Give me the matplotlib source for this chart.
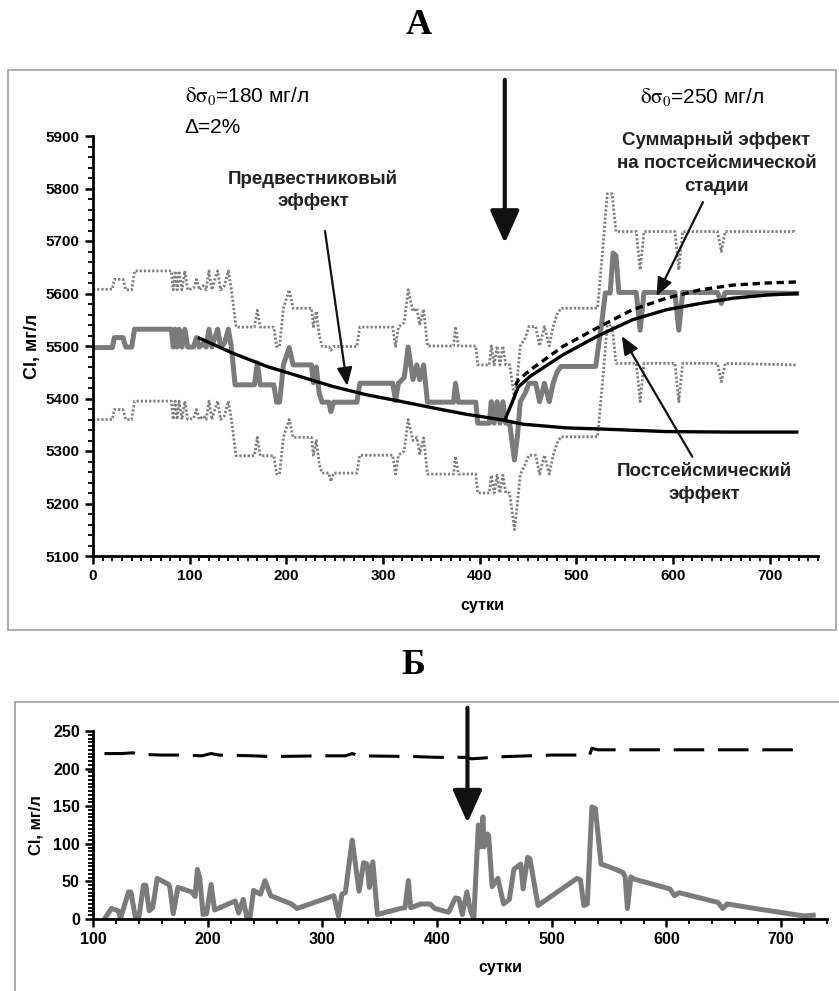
import numpy as np
import matplotlib
matplotlib.use("Agg")
import matplotlib.pyplot as plt
from matplotlib.patches import Rectangle
from matplotlib.lines import Line2D
from matplotlib.ticker import MultipleLocator

plt.rcParams['font.family'] = ['Liberation Sans', 'DejaVu Sans']
plt.rcParams['mathtext.fontset'] = 'stix'

# ---- panel A: measured Cl (thick gray) ----
mid = [(0, 5497), (20, 5497), (22, 5516), (31, 5516), (34, 5498), (40, 5498), (43, 5532), (81, 5532),
       (83, 5498), (85, 5532), (87, 5498), (89, 5532), (92, 5498), (95, 5532), (98, 5498), (104, 5498),
       (107, 5516), (110, 5498), (114, 5505), (117, 5498), (120, 5532), (123, 5498), (126, 5516),
       (129, 5532), (132, 5498), (136, 5505), (140, 5532), (143, 5500), (147, 5426), (167, 5426),
       (170, 5468), (173, 5426), (187, 5426), (190, 5393), (193, 5393), (197, 5464), (203, 5497),
       (207, 5464), (226, 5464), (228, 5430), (231, 5460), (234, 5410), (237, 5393), (244, 5393),
       (246, 5375), (249, 5393), (273, 5393), (276, 5429), (310, 5429), (313, 5396), (316, 5429),
       (322, 5440), (326, 5498), (331, 5436), (335, 5464), (338, 5436), (342, 5464), (346, 5393),
       (373, 5393), (375, 5429), (378, 5393), (396, 5393), (398, 5353), (410, 5353), (412, 5394),
       (415, 5353), (418, 5394), (421, 5353), (424, 5394), (427, 5353), (431, 5353), (436, 5283),
       (439, 5327), (442, 5394), (447, 5410), (451, 5429), (458, 5429), (462, 5394), (467, 5429),
       (472, 5394), (476, 5429), (480, 5450), (484, 5461), (520, 5461), (526, 5540), (530, 5601),
       (535, 5601), (538, 5677), (541, 5672), (544, 5602), (562, 5602), (566, 5530), (570, 5602),
       (602, 5602), (606, 5530), (610, 5602), (646, 5602), (650, 5581), (654, 5602), (728, 5600)]

upper = [(0, 5608), (20, 5608), (22, 5627), (31, 5627), (34, 5607), (40, 5607), (43, 5643), (81, 5643),
         (83, 5607), (85, 5643), (87, 5607), (89, 5643), (92, 5607), (95, 5643), (98, 5607), (104, 5610),
         (107, 5627), (110, 5607), (114, 5615), (117, 5607), (120, 5643), (123, 5607), (126, 5627),
         (129, 5643), (132, 5607), (136, 5615), (140, 5643), (143, 5610), (148, 5536), (167, 5536),
         (170, 5568), (173, 5536), (187, 5536), (190, 5499), (193, 5499), (197, 5572), (203, 5607),
         (207, 5572), (226, 5572), (228, 5537), (231, 5566), (234, 5520), (237, 5499), (244, 5499),
         (246, 5492), (249, 5499), (273, 5499), (276, 5536), (310, 5536), (313, 5499), (316, 5536),
         (322, 5545), (326, 5607), (331, 5566), (335, 5572), (338, 5540), (342, 5570), (346, 5500),
         (373, 5500), (375, 5537), (378, 5500), (396, 5500), (398, 5464), (410, 5464), (412, 5500),
         (415, 5464), (418, 5500), (421, 5464), (424, 5500), (427, 5464), (431, 5464), (436, 5400),
         (439, 5440), (442, 5500), (447, 5515), (451, 5537), (458, 5537), (462, 5500), (467, 5537),
         (472, 5500), (476, 5537), (480, 5560), (484, 5572), (522, 5572), (528, 5700), (532, 5790),
         (537, 5790), (541, 5718), (562, 5718), (566, 5645), (570, 5718), (602, 5718), (606, 5645),
         (610, 5718), (646, 5718), (650, 5680), (654, 5718), (725, 5718), (727, 5714)]

lower = [(0, 5360), (20, 5360), (22, 5379), (31, 5379), (34, 5360), (40, 5360), (43, 5395), (81, 5395),
         (83, 5360), (85, 5395), (87, 5360), (89, 5395), (92, 5360), (95, 5395), (98, 5360), (104, 5362),
         (107, 5379), (110, 5360), (114, 5367), (117, 5360), (120, 5395), (123, 5360), (126, 5379),
         (129, 5395), (132, 5360), (136, 5367), (140, 5395), (143, 5362), (148, 5291), (167, 5291),
         (170, 5326), (173, 5291), (187, 5291), (190, 5256), (193, 5256), (197, 5327), (203, 5360),
         (207, 5326), (226, 5326), (228, 5292), (231, 5320), (234, 5275), (237, 5258), (244, 5258),
         (246, 5242), (249, 5258), (273, 5258), (276, 5292), (310, 5292), (313, 5256), (316, 5292),
         (322, 5300), (326, 5360), (331, 5320), (335, 5326), (338, 5295), (342, 5325), (346, 5256),
         (373, 5256), (375, 5290), (378, 5256), (396, 5256), (398, 5220), (410, 5220), (412, 5254),
         (415, 5220), (418, 5254), (421, 5220), (424, 5254), (427, 5220), (431, 5220), (436, 5150),
         (439, 5200), (442, 5255), (447, 5275), (451, 5292), (458, 5292), (462, 5256), (467, 5292),
         (472, 5256), (476, 5292), (480, 5315), (484, 5327), (522, 5327), (528, 5450), (532, 5540),
         (537, 5540), (541, 5467), (562, 5467), (566, 5394), (570, 5467), (602, 5467), (606, 5394),
         (610, 5467), (646, 5467), (650, 5432), (654, 5467), (727, 5464)]

# model curves
pre_d = [110, 145, 180, 214, 248, 283, 317, 352, 386, 421, 445, 490, 524, 593, 662, 728]
pre_v = [5515, 5486, 5461, 5442, 5423, 5407, 5395, 5382, 5370, 5360, 5351, 5344, 5342, 5337, 5336, 5336]
post_d = [426, 433, 440, 452, 486, 521, 558, 593, 628, 662, 697, 728]
post_v = [5359, 5390, 5422, 5442, 5483, 5518, 5550, 5569, 5581, 5591, 5597, 5600]
sum_d = [437, 440, 452, 486, 521, 558, 593, 628, 662, 697, 728]
sum_v = [5425, 5435, 5454, 5499, 5534, 5569, 5591, 5607, 5616, 5620, 5622]

# ---- panel Б ----
dash_d = [110, 125, 135, 140, 160, 180, 195, 203, 210, 240, 255, 300, 320, 326, 332, 380, 400,
          425, 430, 440, 460, 480, 500, 533, 535, 540, 720]
dash_v = [220, 220, 221, 219, 218, 218, 217, 220, 218, 217, 216, 217, 217, 220, 217, 216, 215,
          215, 213, 214, 216, 217, 218, 218, 227, 225, 225]
diff = [(110, 0), (116, 14), (122, 11), (124, 1), (131, 36), (133, 36), (137, 2), (140, 2), (144, 45),
        (146, 45), (149, 11), (152, 15), (156, 54), (166, 46), (167, 42), (170, 7), (174, 42), (186, 36),
        (189, 30), (191, 66), (193, 55), (196, 6), (199, 7), (203, 46), (206, 12), (224, 24), (227, 8),
        (231, 26), (234, 3), (237, 3), (240, 38), (246, 33), (250, 51), (255, 31), (273, 20), (278, 14),
        (310, 31), (314, 4), (317, 33), (320, 35), (326, 105), (332, 37), (336, 75), (339, 73), (341, 42),
        (344, 76), (348, 6), (368, 14), (372, 15), (375, 51), (377, 15), (386, 20), (394, 20), (398, 14),
        (410, 9), (416, 28), (419, 27), (422, 6), (426, 36), (429, 12), (432, 0), (436, 125), (438, 96),
        (440, 136), (441, 96), (444, 113), (445, 111), (448, 43), (453, 54), (458, 20), (463, 26),
        (467, 66), (471, 71), (473, 73), (475, 40), (479, 82), (481, 80), (488, 18), (522, 54), (525, 52),
        (528, 18), (531, 20), (535, 149), (538, 147), (543, 73), (549, 70), (562, 62), (564, 56),
        (566, 14), (569, 56), (572, 53), (603, 40), (607, 31), (611, 35), (645, 22), (649, 14), (653, 20),
        (677, 14), (720, 4), (728, 5)]

W, H = 839, 991
fig = plt.figure(figsize=(W / 100, H / 100), dpi=100)

# frames
fig.add_artist(Rectangle((8 / W, 1 - 630 / H), 828 / W, 560 / H, transform=fig.transFigure,
                         fill=False, ec='#a0a0a0', lw=1.2))
fig.add_artist(Line2D([15 / W, 15 / W], [0, 1 - 702 / H], transform=fig.transFigure, color='#a0a0a0', lw=1.2))
fig.add_artist(Line2D([15 / W, 1], [1 - 702 / H, 1 - 702 / H], transform=fig.transFigure, color='#a0a0a0', lw=1.2))

fig.text(419 / W, 1 - 25 / H, 'А', family='Liberation Serif', fontsize=26, weight='bold',
         ha='center', va='center')
fig.text(413 / W, 1 - 666 / H, 'Б', family='Liberation Serif', fontsize=26, weight='bold',
         ha='center', va='center')

gray = '#7b7b7b'
ax1 = fig.add_axes([93 / W, 1 - 556 / H, 725 / W, 420 / H])
ax1.plot(*zip(*upper), color='#7f7f7f', lw=2.0, ls=(0, (0.8, 0.7)))
ax1.plot(*zip(*lower), color='#7f7f7f', lw=2.0, ls=(0, (0.8, 0.7)))
ax1.plot(*zip(*mid), color=gray, lw=3.6, solid_joinstyle='round')
ax1.plot(pre_d, pre_v, color='black', lw=2.4)
ax1.plot(post_d, post_v, color='black', lw=2.4)
ax1.plot(sum_d, sum_v, color='black', lw=2.4, ls=(0, (2.2, 1.4)))

ax1.set_xlim(0, 750)
ax1.set_ylim(5100, 5900)
ax1.set_xticks(range(0, 701, 100))
ax1.set_yticks(range(5100, 5901, 100))
ax1.xaxis.set_minor_locator(MultipleLocator(10))
ax1.yaxis.set_minor_locator(MultipleLocator(20))
ax1.set_xlabel('сутки', fontsize=11.5, weight='bold')
ax1.xaxis.set_label_coords(0.537, -0.1)
ax1.set_ylabel('Cl, мг/л', fontsize=13, weight='bold')
ax1.yaxis.set_label_coords(-0.072, 0.5)

big = dict(arrowstyle='-|>,head_length=1.0,head_width=0.45', color='#111111', lw=3,
           mutation_scale=20, shrinkA=0, shrinkB=0)
small = dict(arrowstyle='-|>,head_length=1.0,head_width=0.42', color='#111111', lw=1.6,
             mutation_scale=11, shrinkA=0, shrinkB=0)
ax1.annotate('', xy=(426, 5696), xytext=(426, 6007), arrowprops=big, annotation_clip=False)
ax1.annotate('', xy=(263, 5424), xytext=(240, 5719), arrowprops=small)
ax1.annotate('', xy=(583, 5595), xytext=(631, 5774), arrowprops=small)
ax1.annotate('', xy=(547, 5519), xytext=(620, 5289), arrowprops=small)

ax1.text(227.5, 5797, 'Предвестниковый\nэффект', fontsize=13.5, weight='bold', color='#222222',
         ha='center', va='center', linespacing=1.45)
ax1.text(645, 5849, 'Суммарный эффект\nна постсейсмической\nстадии', fontsize=13.5, weight='bold',
         color='#222222', ha='center', va='center', linespacing=1.45)
ax1.text(632, 5239, 'Постсейсмический\nэффект', fontsize=13.5, weight='bold', color='#222222',
         ha='center', va='center', linespacing=1.4)
ax1.text(95, 5965, r'$\mathrm{\delta\sigma_0}$=180 мг/л', fontsize=15,
         va='baseline', clip_on=False)
ax1.text(95, 5906, 'Δ=2%', fontsize=15, va='baseline', clip_on=False)
ax1.text(566, 5963, r'$\mathrm{\delta\sigma_0}$=250 мг/л', fontsize=15,
         va='baseline', clip_on=False)

ax2 = fig.add_axes([93 / W, 1 - 919 / H, 734 / W, 188 / H])
ax2.plot(dash_d, dash_v, color='black', lw=2.2, ls=(0, (10, 4.5)))
ax2.plot(*zip(*diff), color=gray, lw=3.6, solid_joinstyle='round')
ax2.annotate('', xy=(426.5, 128), xytext=(426.5, 281), arrowprops=big, annotation_clip=False)
ax2.set_xlim(100, 740)
ax2.set_ylim(0, 250)
ax2.set_xticks(range(100, 701, 100))
ax2.set_yticks(range(0, 251, 50))
ax2.xaxis.set_minor_locator(MultipleLocator(20))
ax2.yaxis.set_minor_locator(MultipleLocator(5))
ax2.set_xlabel('сутки', fontsize=11.5, weight='bold')
ax2.xaxis.set_label_coords(0.555, -0.22)
ax2.set_ylabel('Cl, мг/л', fontsize=12, weight='bold')
ax2.yaxis.set_label_coords(-0.068, 0.5)

for ax, fs in ((ax1, 11), (ax2, 11.5)):
    for s in ('top', 'right'):
        ax.spines[s].set_visible(False)
    for s in ('left', 'bottom'):
        ax.spines[s].set_linewidth(2)
    ax.tick_params(which='major', length=6, width=1.8, labelsize=fs, direction='out')
    ax.tick_params(which='minor', length=3.5, width=1.3, direction='out')
    for lbl in ax.get_xticklabels() + ax.get_yticklabels():
        lbl.set_fontweight('bold')

fig.savefig('out.png', dpi=100)
